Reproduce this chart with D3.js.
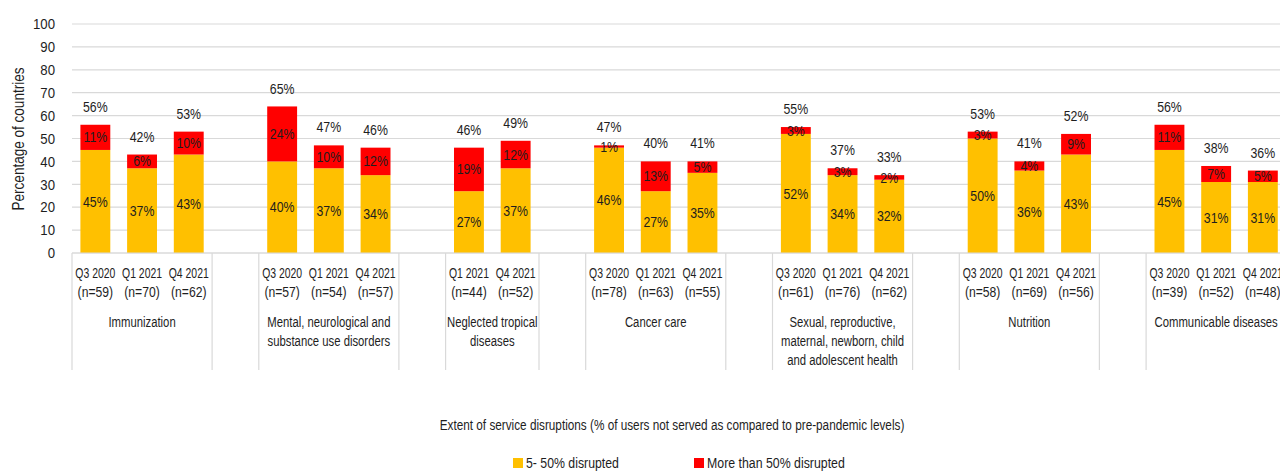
<!DOCTYPE html>
<html>
<head>
<meta charset="utf-8">
<script src="https://cdn.jsdelivr.net/npm/d3@7"></script>
<style>
  html, body { margin: 0; padding: 0; background: #fff; }
  svg { display: block; }
  text { font-family: "Liberation Sans", Arial, sans-serif; fill: #1e1e1e; }
</style>
</head>
<body>
<svg id="chart" width="1280" height="471"></svg>
<script>
const categoryLines = [
  ["Immunization"],
  ["Mental, neurological and", "substance use disorders"],
  ["Neglected tropical", "diseases"],
  ["Cancer care"],
  ["Sexual, reproductive,", "maternal, newborn, child", "and adolescent health"],
  ["Nutrition"],
  ["Communicable diseases"]
];
const barCategory = [0,0,0, 1,1,1, 2,2, 3,3,3, 4,4,4, 5,5,5, 6,6,6];
const periods = ["Q3 2020","Q1 2021","Q4 2021", "Q3 2020","Q1 2021","Q4 2021", "Q1 2021","Q4 2021",
                 "Q3 2020","Q1 2021","Q4 2021", "Q3 2020","Q1 2021","Q4 2021", "Q3 2020","Q1 2021","Q4 2021",
                 "Q3 2020","Q1 2021","Q4 2021"];
const sampleSizes = [59,70,62, 57,54,57, 44,52, 78,63,55, 61,76,62, 58,69,56, 39,52,48];
const moderate = [45,37,43, 40,37,34, 27,37, 46,27,35, 52,34,32, 50,36,43, 45,31,31];
const severe   = [11,6,10, 24,10,12, 19,12, 1,13,5, 3,3,2, 3,4,9, 11,7,5];
const totals   = [56,42,53, 65,47,46, 46,49, 47,40,41, 55,37,33, 53,41,52, 56,38,36];
const yTicks = [0,10,20,30,40,50,60,70,80,90,100];
const seriesNames = ["5- 50% disrupted", "More than 50% disrupted"];
const seriesColors = ["#FFC000", "#FF0000"];
const xTitle = "Extent of service disruptions (% of users not served as compared to pre-pandemic levels)";
const yTitle = "Percentage of countries";

const svg = d3.select("#chart");
const W = 1280;

// condensed text helper: draws real text squeezed horizontally
function ctext(parent, str, x, y, size, sx, anchor) {
  return parent.append("text")
    .attr("transform", `translate(${x},${y}) scale(${sx},1)`)
    .attr("x", 0).attr("y", 0).attr("dy", "0.35em")
    .attr("text-anchor", anchor || "middle")
    .attr("font-size", size)
    .text(str);
}
// fit a text to a given width by horizontal scale
function fitText(parent, str, x, y, size, width, anchor, rotate) {
  const t = parent.append("text").attr("font-size", size).attr("dy", "0.35em")
    .attr("text-anchor", anchor || "middle").text(str);
  const w = t.node().getComputedTextLength();
  const sx = width / w;
  t.attr("transform", `translate(${x},${y})${rotate ? " rotate(" + rotate + ")" : ""} scale(${sx},1)`);
  return t;
}

// slot keys: bars plus a spacer after each category except the last
const slots = [];
const barSlot = [];
categoryLines.forEach((c, ci) => {
  barCategory.forEach((bc, bi) => { if (bc === ci) { barSlot[bi] = "b" + bi; slots.push("b" + bi); } });
  if (ci < categoryLines.length - 1) slots.push("s" + ci);
});

const x0 = 72, step = 46.7;
const x = d3.scaleBand().domain(slots).range([x0, x0 + slots.length * step])
  .paddingInner(0.36).paddingOuter(0.18);
const y = d3.scaleLinear().domain([0, 100]).range([253, 24]);
const cx = i => x(barSlot[i]) + x.bandwidth() / 2;

// gridlines
svg.append("g").selectAll("line").data(yTicks).join("line")
  .attr("x1", x0).attr("x2", W)
  .attr("y1", d => y(d)).attr("y2", d => y(d))
  .attr("stroke", "#d9d9d9").attr("stroke-width", 1.2);

// y tick labels
const gy = svg.append("g");
yTicks.forEach(t => ctext(gy, String(t), 55, y(t), 15, 0.88, "end"));

// y title
fitText(svg, yTitle, 18, 139, 16, 143, "middle", -90);

// bars
const bars = svg.append("g");
bars.selectAll("rect.mod").data(moderate).join("rect").attr("class", "mod")
  .attr("x", (d, i) => x(barSlot[i])).attr("width", x.bandwidth())
  .attr("y", d => y(d)).attr("height", d => y(0) - y(d))
  .attr("fill", seriesColors[0]);
bars.selectAll("rect.sev").data(severe).join("rect").attr("class", "sev")
  .attr("x", (d, i) => x(barSlot[i])).attr("width", x.bandwidth())
  .attr("y", (d, i) => y(moderate[i] + d)).attr("height", (d, i) => y(moderate[i]) - y(moderate[i] + d))
  .attr("fill", seriesColors[1]);

// segment & total labels
const gl = svg.append("g");
moderate.forEach((d, i) => ctext(gl, d + "%", cx(i), y(d / 2), 14.5, 0.85));
severe.forEach((d, i) => ctext(gl, d + "%", cx(i), y(moderate[i] + d / 2), 14.5, 0.85));
totals.forEach((d, i) => ctext(gl, d + "%", cx(i), y(moderate[i] + severe[i]) - 18, 14.5, 0.85));

// category axis: period and n labels
const ga = svg.append("g");
periods.forEach((p, i) => ctext(ga, p, cx(i), 273, 14.5, 0.72));
sampleSizes.forEach((n, i) => ctext(ga, "(n=" + n + ")", cx(i), 292, 14.5, 0.84));

// group boxes and labels
const pad = x.step() * 0.18;
const boundaries = [];
const groupInfo = categoryLines.map((lines, ci) => {
  const idx = barCategory.map((c, i) => c === ci ? i : -1).filter(i => i >= 0);
  const left = x(barSlot[idx[0]]) - pad;
  const right = x(barSlot[idx[idx.length - 1]]) + x.bandwidth() + pad;
  boundaries.push(left, right);
  return { lines, center: (left + right) / 2 };
});
svg.append("g").selectAll("line").data(boundaries).join("line")
  .attr("x1", d => d).attr("x2", d => d).attr("y1", y(0)).attr("y2", 370)
  .attr("stroke", "#d9d9d9").attr("stroke-width", 1.2);
svg.append("line").attr("x1", x0).attr("x2", W).attr("y1", y(0)).attr("y2", y(0))
  .attr("stroke", "#d9d9d9").attr("stroke-width", 1.2);

const gg = svg.append("g");
groupInfo.forEach(g => {
  g.lines.forEach((t, li) => ctext(gg, t, g.center, 322 + li * 19, 14.5, 0.78));
});

// x title
fitText(svg, xTitle, 672, 425, 15, 465, "middle");

// legend
const legendX = [513, 694];
const legendW = [93, 138];
const lg = svg.append("g");
seriesNames.forEach((n, i) => {
  lg.append("rect").attr("x", legendX[i]).attr("y", 458).attr("width", 10).attr("height", 10)
    .attr("fill", seriesColors[i]);
  fitText(lg, n, legendX[i] + 13, 463, 15, legendW[i], "start");
});
</script>
</body>
</html>
